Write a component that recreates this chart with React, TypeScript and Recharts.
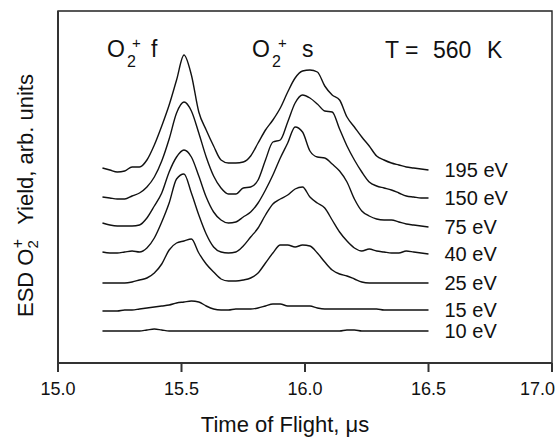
import React from "react";
import { Customized, Line, LineChart, ReferenceArea, XAxis, YAxis } from "recharts";

// time of flight grid, µs
const tof = [
  15.18, 15.21, 15.24, 15.27, 15.3, 15.33, 15.36, 15.39, 15.42, 15.45, 15.48, 15.51, 15.54, 15.57, 15.6,
  15.63, 15.66, 15.69, 15.72, 15.75, 15.78, 15.81, 15.84, 15.87, 15.9, 15.93, 15.96, 15.99, 16.02, 16.05,
  16.08, 16.11, 16.14, 16.17, 16.2, 16.23, 16.26, 16.29, 16.32, 16.35, 16.38, 16.41, 16.44, 16.47, 16.5,
];

// stacked yields (arb. units, offset per energy)
const yield195 = [
  195, 193, 191, 192, 196, 196, 203, 218, 237, 258, 283, 308, 288, 251, 233, 217, 203, 200, 200, 201, 207, 220,
  233, 243, 255, 271, 285, 292, 293, 291, 277, 268, 263, 246, 236, 226, 217, 207, 203, 200, 198, 196, 195, 194, 193,
];
const yield150 = [
  166, 165, 164, 164, 167, 170, 176, 186, 202, 224, 250, 261, 252, 230, 206, 187, 175, 169, 169, 175, 176, 183,
  203, 221, 223, 241, 260, 268, 265, 259, 252, 251, 234, 217, 203, 191, 181, 177, 175, 173, 170, 167, 166, 165, 165,
];
const yield75 = [
  140, 138, 137, 137, 137, 138, 145, 157, 170, 191, 206, 213, 206, 187, 166, 151, 143, 140, 141, 146, 151, 160,
  173, 188, 205, 220, 236, 231, 212, 206, 205, 199, 192, 181, 164, 152, 147, 144, 143, 143, 141, 139, 138, 137, 136,
];
const yield40 = [
  111, 110, 110, 111, 112, 111, 115, 125, 141, 160, 184, 189, 170, 148, 129, 116, 111, 110, 111, 117, 126, 135,
  148, 159, 164, 168, 174, 176, 166, 160, 155, 143, 131, 122, 115, 112, 114, 112, 111, 110, 110, 112, 111, 110, 109,
];
const yield25 = [
  80, 80, 80, 80, 81, 83, 85, 90, 99, 113, 120, 122, 124, 110, 99, 91, 84, 82, 82, 83, 85, 90, 100, 110, 118, 118,
  116, 118, 117, 110, 101, 93, 89, 87, 84, 81, 80, 80, 80, 80, 80, 80, 80, 80, 80,
];
const yield15 = [
  52, 52, 52, 53, 53, 54, 55, 56, 57, 58, 60, 61, 62, 61, 57, 54, 53, 53, 54, 54, 54, 55, 57, 59, 59, 57, 57, 57,
  57, 55, 54, 54, 54, 54, 54, 54, 54, 54, 53, 53, 53, 53, 53, 53, 53,
];
const yield10 = [
  32, 32, 32, 32, 32, 32, 33, 34, 33, 32, 32, 32, 32, 32, 32, 32, 32, 32, 32, 32, 32, 32, 32, 32, 32, 32, 32, 32,
  32, 32, 32, 32, 32, 33, 33, 32, 32, 32, 32, 32, 32, 32, 32, 32, 32,
];

const energies = ["195 eV", "150 eV", "75 eV", "40 eV", "25 eV", "15 eV", "10 eV"];
const seriesKeys = ["e195", "e150", "e75", "e40", "e25", "e15", "e10"];
const xTicks = [15, 15.5, 16, 16.5, 17];

const data = tof.map((t, i) => ({
  t,
  e195: yield195[i],
  e150: yield150[i],
  e75: yield75[i],
  e40: yield40[i],
  e25: yield25[i],
  e15: yield15[i],
  e10: yield10[i],
}));

const FONT = "'Liberation Sans', Arial, Helvetica, sans-serif";
const INK = "#111";
const WIDTH = 555;

const endLabel = (text: string) => (props: any) => {
  if (props.index !== tof.length - 1) return <g />;
  return (
    <text x={props.x + 16} y={props.y} dy="0.36em" fontSize={20} fill={INK} fontFamily={FONT}>
      {text}
    </text>
  );
};

// keeps the last tick label inside the svg
function TimeTick(props: any) {
  const { x, y, payload } = props;
  const label = Number(payload.value).toFixed(1);
  const atEdge = x + 18 > WIDTH;
  return (
    <text
      x={atEdge ? WIDTH : x}
      y={y}
      dy="0.71em"
      textAnchor={atEdge ? "end" : "middle"}
      fontSize={18}
      fill={INK}
      fontFamily={FONT}
    >
      {label}
    </text>
  );
}

function Annotations() {
  return (
    <g fontFamily={FONT} fill={INK}>
      {/* peak labels */}
      <text x={107} y={57} fontSize={23}>O</text>
      <text x={127} y={67} fontSize={16}>2</text>
      <text x={132} y={48} fontSize={15}>+</text>
      <text x={151} y={57} fontSize={23}>f</text>

      <text x={252} y={57} fontSize={23}>O</text>
      <text x={272} y={67} fontSize={16}>2</text>
      <text x={278} y={48} fontSize={15}>+</text>
      <text x={302} y={57} fontSize={23}>s</text>

      <text y={58} fontSize={23}>
        <tspan x={385}>T =</tspan>
        <tspan x={433}>560</tspan>
        <tspan x={487}>K</tspan>
      </text>

      {/* axis titles */}
      <text x={285} y={432} fontSize={22} textAnchor="middle">
        Time of Flight, μs
      </text>
      <text transform="translate(33,317) rotate(-90)" fontSize={22}>
        ESD O
        <tspan fontSize={15} dy={5}>2</tspan>
        <tspan fontSize={16} dx={-8} dy={-15}>+</tspan>
        <tspan fontSize={22} dx={14} dy={10}>Yield, arb. units</tspan>
      </text>
    </g>
  );
}

export default function App() {
  return (
    <div style={{ position: "fixed", left: 0, top: 0, width: WIDTH, height: 439, background: "#fff" }}>
      <LineChart width={WIDTH} height={439} data={data} margin={{ top: 11, right: 3, bottom: 36, left: 0 }}>
        <XAxis
          dataKey="t"
          type="number"
          domain={[15, 17]}
          ticks={xTicks}
          interval={0}
          height={40}
          tickSize={9}
          tickMargin={10}
          axisLine={{ stroke: "#333", strokeWidth: 2 }}
          tickLine={{ stroke: "#333", strokeWidth: 2 }}
          tick={<TimeTick />}
        />
        <YAxis
          type="number"
          domain={[0, 352]}
          width={58}
          tick={false}
          tickLine={false}
          axisLine={{ stroke: "#333", strokeWidth: 2 }}
        />
        <ReferenceArea x1={15} x2={17} y1={0} y2={352} fill="none" stroke="#222" strokeWidth={1.4} ifOverflow="visible" />
        {seriesKeys.map((key, i) => (
          <Line
            key={key}
            dataKey={key}
            type="monotone"
            stroke={INK}
            strokeWidth={1.4}
            dot={false}
            activeDot={false}
            isAnimationActive={false}
            label={endLabel(energies[i])}
          />
        ))}
        <Customized component={Annotations} />
      </LineChart>
    </div>
  );
}
